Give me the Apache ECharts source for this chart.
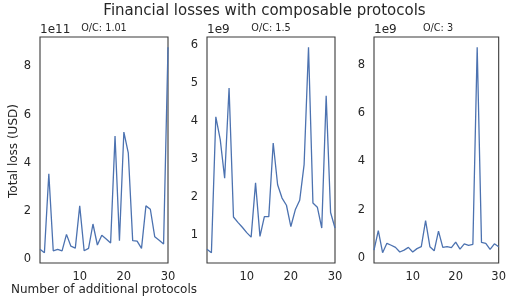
<!DOCTYPE html>
<html><head><meta charset="utf-8">
<script src="https://cdn.jsdelivr.net/npm/echarts@6/dist/echarts.min.js"></script>
<style>html,body{margin:0;padding:0;background:#fff}#c{width:509px;height:296px}</style>
</head><body><div id="c"></div>
<script>
// Number of additional protocols
const protocols = [1,2,3,4,5,6,7,8,9,10,11,12,13,14,15,16,17,18,19,20,21,22,23,24,25,26,27,28,29,30];
// Total loss (USD), O/C: 1.01
const lossOC101 = [0.42e11,0.28e11,3.55e11,0.36e11,0.42e11,0.36e11,1.04e11,0.55e11,0.47e11,2.22e11,0.36e11,0.46e11,1.47e11,0.60e11,1.00e11,0.85e11,0.68e11,5.11e11,0.78e11,5.28e11,4.42e11,0.78e11,0.76e11,0.46e11,2.22e11,2.08e11,0.94e11,0.80e11,0.64e11,8.79e11];
// Total loss (USD), O/C: 1.5
const lossOC15 = [0.62e9,0.53e9,4.11e9,3.51e9,2.49e9,4.87e9,1.47e9,1.33e9,1.20e9,1.06e9,0.94e9,2.37e9,0.96e9,1.48e9,1.48e9,3.42e9,2.32e9,1.97e9,1.78e9,1.22e9,1.66e9,1.91e9,2.85e9,5.94e9,1.84e9,1.73e9,1.18e9,4.66e9,1.59e9,1.18e9];
// Total loss (USD), O/C: 3
const lossOC3 = [0.32e9,1.13e9,0.21e9,0.60e9,0.52e9,0.43e9,0.24e9,0.32e9,0.43e9,0.24e9,0.38e9,0.46e9,1.54e9,0.46e9,0.29e9,1.11e9,0.43e9,0.46e9,0.42e9,0.65e9,0.36e9,0.58e9,0.52e9,0.56e9,8.74e9,0.64e9,0.60e9,0.35e9,0.58e9,0.46e9];
const panelLabels = ['O/C: 1.01','O/C: 1.5','O/C: 3'];
const exponents = [11, 9, 9];
const yTicks = [[0,2,4,6,8],[1,2,3,4,5,6],[0,2,4,6,8]];
const xTicks = [10,20,30];

const series = [lossOC101, lossOC15, lossOC3];
const txt = '#262626';
const font = 'DejaVu Sans';
const lefts = [40, 207, 374];
const W = 128, TOP = 37, H = 226;

function lims(arr){
  const mn = Math.min(...arr), mx = Math.max(...arr), r = mx - mn;
  return [mn - 0.05*r, mx + 0.05*r];
}

const grids = [], xAxes = [], yAxes = [], ser = [], graphics = [];
graphics.push({type:'text', x:264.5, y:19, style:{text:'Financial losses with composable protocols', font:'15px "DejaVu Sans"', fill:txt, textAlign:'center', textVerticalAlign:'bottom'}});
graphics.push({type:'text', x:104, y:290, style:{text:'Number of additional protocols', font:'12px "DejaVu Sans"', fill:txt, textAlign:'center', textVerticalAlign:'middle'}});
graphics.push({type:'text', x:14, y:151, rotation:Math.PI/2, style:{text:'Total loss (USD)', font:'12px "DejaVu Sans"', fill:txt, textAlign:'center', textVerticalAlign:'middle'}});
for (let k=0;k<3;k++){
  const sc = Math.pow(10, exponents[k]);
  const [mn, mx] = lims(series[k]);
  grids.push({left:lefts[k], top:TOP, width:W, height:H, show:true, borderColor:'#3a3a3a', borderWidth:1.1, backgroundColor:'transparent'});
  xAxes.push({type:'value', gridIndex:k, min:1, max:30,
    axisLine:{show:false}, axisTick:{show:false}, splitLine:{show:false},
    axisLabel:{customValues:xTicks, color:txt, fontFamily:font, fontSize:11.5, margin:8}});
  yAxes.push({type:'value', gridIndex:k, min:mn, max:mx,
    axisLine:{show:false}, axisTick:{show:false}, splitLine:{show:false},
    axisLabel:{customValues:yTicks[k].map(v=>v*sc), formatter:v=>String(Math.round(v/sc)), color:txt, fontFamily:font, fontSize:11.5, margin:9}});
  ser.push({type:'line', xAxisIndex:k, yAxisIndex:k, showSymbol:false, symbol:'none',
    lineStyle:{color:'#4C72B0', width:1.3}, data: protocols.map((x,i)=>[x, series[k][i]])});
  graphics.push({type:'text', x:lefts[k]+W/2, y:33, style:{text:panelLabels[k], font:'9.7px "DejaVu Sans"', fill:txt, textAlign:'center', textVerticalAlign:'bottom'}});
  graphics.push({type:'text', x:lefts[k], y:35.5, style:{text:'1e'+exponents[k], font:'12px "DejaVu Sans"', fill:txt, textAlign:'left', textVerticalAlign:'bottom'}});
}

const chart = echarts.init(document.getElementById('c'), null, {renderer:'canvas'});
chart.setOption({animation:false, grid:grids, xAxis:xAxes, yAxis:yAxes, series:ser, graphic:graphics});
</script></body></html>
